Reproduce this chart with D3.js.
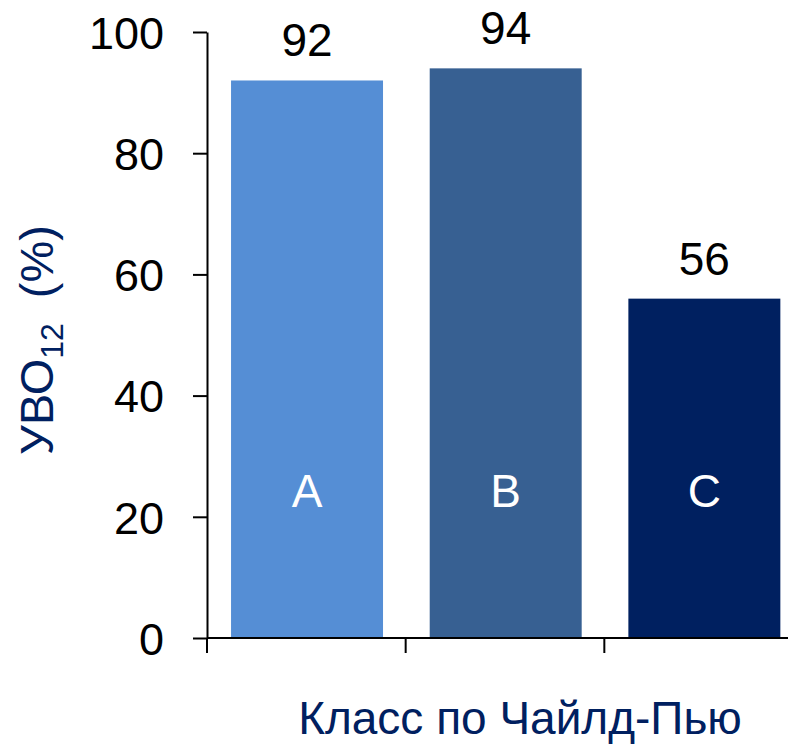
<!DOCTYPE html>
<html>
<head>
<meta charset="utf-8">
<script src="https://cdn.jsdelivr.net/npm/d3@7"></script>
<style>
  body { margin: 0; background: #fff; }
  text { font-family: "Liberation Sans", Arial, sans-serif; }
</style>
</head>
<body>
<div id="chart"></div>
<script>
// data
var classes = ["A", "B", "C"];
var values = [92, 94, 56];
var barColors = ["#558ed5", "#376092", "#002060"];
var yTicks = [0, 20, 40, 60, 80, 100];

var W = 788, H = 744;
var margin = {top: 32, left: 207, bottom: 106};
var plotRight = 803;

var svg = d3.select("#chart").append("svg")
    .attr("width", W)
    .attr("height", H);

// scales
var x = d3.scaleBand().domain(classes).range([margin.left, plotRight]).padding(0);
var y = d3.scaleLinear().domain([0, 100]).range([H - margin.bottom, margin.top]);

var bw = x.bandwidth();

// bars
svg.selectAll("rect.bar")
    .data(classes)
  .enter().append("rect")
    .attr("class", "bar")
    .attr("x", function(d) { return x(d) + bw * 0.121; })
    .attr("width", bw * 0.765)
    .attr("y", function(d, i) { return y(values[i]); })
    .attr("height", function(d, i) { return y(0) - y(values[i]); })
    .attr("fill", function(d, i) { return barColors[i]; });

// value labels
svg.selectAll("text.val")
    .data(classes)
  .enter().append("text")
    .attr("class", "val")
    .attr("x", function(d) { return x(d) + bw * 0.121 + bw * 0.765 / 2; })
    .attr("y", function(d, i) { return y(values[i]) - 24; })
    .attr("text-anchor", "middle")
    .attr("font-size", 46)
    .attr("fill", "#000")
    .text(function(d, i) { return values[i]; });

// class letters inside bars
svg.selectAll("text.cls")
    .data(classes)
  .enter().append("text")
    .attr("class", "cls")
    .attr("x", function(d) { return x(d) + bw * 0.121 + bw * 0.765 / 2; })
    .attr("y", y(21.6))
    .attr("text-anchor", "middle")
    .attr("font-size", 46)
    .attr("fill", "#fff")
    .text(function(d) { return d; });

// y axis
var yAxis = svg.append("g")
    .attr("transform", "translate(" + margin.left + ",0)")
    .call(d3.axisLeft(y).tickValues(yTicks).tickSize(14).tickPadding(29).tickSizeOuter(0));
yAxis.select(".domain").attr("stroke", "#000").attr("stroke-width", 2);
yAxis.selectAll(".tick line").attr("stroke", "#000").attr("stroke-width", 2);
yAxis.selectAll(".tick text")
    .attr("font-size", 45)
    .attr("font-family", "Liberation Sans, Arial, sans-serif")
    .attr("fill", "#000")
    .attr("dy", "0.36em");

// x axis line and boundary ticks
svg.append("line")
    .attr("x1", margin.left).attr("x2", W)
    .attr("y1", y(0)).attr("y2", y(0))
    .attr("stroke", "#000").attr("stroke-width", 2);

var bounds = classes.map(function(d) { return x(d); });
svg.selectAll("line.xtick")
    .data(bounds)
  .enter().append("line")
    .attr("class", "xtick")
    .attr("x1", function(d) { return d; }).attr("x2", function(d) { return d; })
    .attr("y1", y(0)).attr("y2", y(0) + 15)
    .attr("stroke", "#000").attr("stroke-width", 2);

// axis titles
svg.append("text")
    .attr("x", 520)
    .attr("y", 734)
    .attr("text-anchor", "middle")
    .attr("font-size", 46)
    .attr("fill", "#002060")
    .text("Класс по Чайлд-Пью");

var yt = svg.append("text")
    .attr("transform", "translate(53,340) rotate(-90)")
    .attr("text-anchor", "middle")
    .attr("font-size", 47)
    .attr("fill", "#002060");
yt.append("tspan").text("УВО");
yt.append("tspan").attr("font-size", 32).attr("dy", 10).text("12");
yt.append("tspan").attr("dy", -10).attr("dx", 12).text(" (%)");
</script>
</body>
</html>
